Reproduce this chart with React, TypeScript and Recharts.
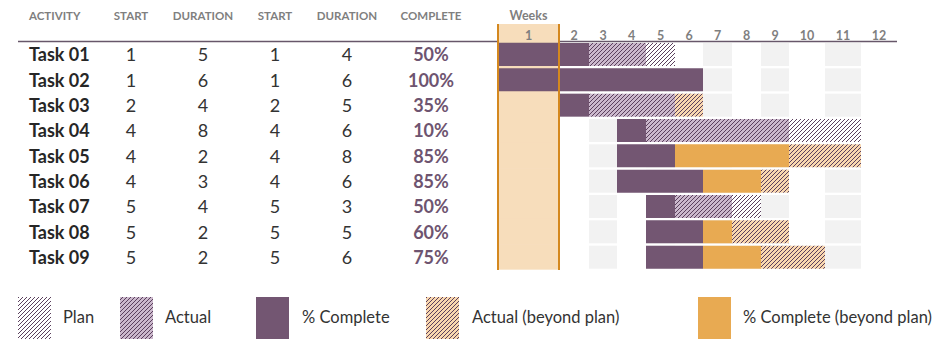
import { BarChart, Bar, XAxis, YAxis, ReferenceLine, Customized } from 'recharts';

// table values
const tasks = ['Task 01', 'Task 02', 'Task 03', 'Task 04', 'Task 05', 'Task 06', 'Task 07', 'Task 08', 'Task 09'];
const planStart = [1, 1, 2, 4, 4, 4, 5, 5, 5];
const planDuration = [5, 6, 4, 8, 2, 3, 4, 2, 2];
const actualStart = [1, 1, 2, 4, 4, 4, 5, 5, 5];
const actualDuration = [4, 6, 5, 6, 8, 6, 3, 5, 6];
const percentComplete = [50, 100, 35, 10, 85, 85, 50, 60, 75];
// whole weeks shown as done in the grid
const weeksDone = [2, 6, 1, 1, 6, 5, 1, 3, 4];

const weeks = [1, 2, 3, 4, 5, 6, 7, 8, 9, 10, 11, 12];
const currentWeek = 1;
const headers = ['ACTIVITY', 'START', 'DURATION', 'START', 'DURATION', 'COMPLETE'];
const legendLabels = ['Plan', 'Actual', '% Complete', 'Actual (beyond plan)', '% Complete (beyond plan)'];

// layout
const font = 'Lato, "Open Sans", sans-serif';
const W = 950;
const H = 355;
const plotLeft = 498;
const plotRight = 897;
const plotTop = 42;
const plotBottom = 270;
const rowGap = 1;
const columnWidths = [61, 30, 28, 29, 29, 28, 29, 29, 28, 36, 36, 36]; // excel cell widths
const columnEdges = columnWidths.reduce((acc, w) => [...acc, acc[acc.length - 1] + w], [0]);
const tableX = [29, 131, 203, 275, 347, 431];
const shadedWeeks = [3, 5, 7, 9, 11];
const legendSwatchX = [18, 120, 256, 426, 698];
const legendTextX = [63, 165, 302, 472, 743];

const purple = '#735672';
const orange = '#E8AA52';
const peach = '#F7DDBB';
const weekLine = '#D4881F';
const hatchInk = '#5B405D';

// piecewise linear scale so the week columns keep their uneven widths
function weekScale(): any {
  let domain = [0, weeks.length];
  let range = [0, 1];
  const total = columnEdges[columnEdges.length - 1];
  const scale: any = (v: number) => {
    const u = ((Number(v) - domain[0]) / (domain[1] - domain[0])) * columnWidths.length;
    const i = Math.max(0, Math.min(columnWidths.length - 1, Math.floor(u)));
    const pos = columnEdges[i] + (u - i) * columnWidths[i];
    return range[0] + (pos / total) * (range[1] - range[0]);
  };
  scale.domain = (d?: any) => {
    if (d === undefined) return domain.slice();
    domain = [Number(d[0]), Number(d[d.length - 1])];
    return scale;
  };
  scale.range = (r?: any) => {
    if (r === undefined) return range.slice();
    range = [Number(r[0]), Number(r[r.length - 1])];
    return scale;
  };
  scale.copy = () => weekScale().domain(domain).range(range);
  scale.ticks = () => weeks.map((w) => w - 0.5);
  scale.tickFormat = () => (v: number) => String(v);
  return scale;
}

const plotScale = weekScale().range([plotLeft, plotRight]);

const rows = tasks.map((task, i) => {
  const plan = planDuration[i];
  const act = actualDuration[i];
  const done = weeksDone[i];
  return {
    task,
    lead: actualStart[i] - 1,
    done: Math.min(done, plan),
    actual: Math.max(0, Math.min(act, plan) - done),
    doneBeyond: Math.max(0, done - plan),
    actualBeyond: Math.max(0, act - Math.max(plan, done)),
    plan: Math.max(0, plan - Math.max(act, done)),
  };
});

const RowBackdrop = (props: any) => {
  const { x, y, width, height, index } = props;
  const s = weekScale().range([x, x + width]);
  const isLast = index === rows.length - 1;
  const top = index === 0 ? y - rowGap : y - rowGap - 0.5;
  const bottom = isLast ? y + height + rowGap : y + height + rowGap + 0.5;
  return (
    <g key={`bg-${index}`}>
      {shadedWeeks.map((w) => (
        <rect key={w} x={s(w - 1)} y={y} width={s(w) - s(w - 1)} height={height} fill="#F2F2F2" />
      ))}
      <rect x={s(currentWeek - 1)} y={top} width={s(currentWeek) - s(currentWeek - 1)} height={bottom - top} fill={peach} />
    </g>
  );
};

const WeekTick = (props: any) => {
  const { x, y, index } = props;
  const week = weeks[index];
  const x0 = plotScale(week - 1);
  const x1 = plotScale(week);
  return (
    <g>
      {week === currentWeek && (
        <g>
          <rect x={x0} y={24} width={x1 - x0} height={plotTop - 24} fill={peach} />
          <line x1={x0} x2={x0} y1={24} y2={plotTop} stroke={weekLine} strokeWidth={2} />
          <line x1={x1} x2={x1} y1={24} y2={plotTop} stroke={weekLine} strokeWidth={2} />
        </g>
      )}
      <text x={x} y={y + 3} textAnchor="middle" fontFamily={font} fontSize={12.5} fontWeight={700} fill="#7F7F7F">
        {week}
      </text>
    </g>
  );
};

const TaskTick = (props: any) => {
  const { y, index } = props;
  const cells = [planStart[index], planDuration[index], actualStart[index], actualDuration[index]];
  return (
    <g fontFamily={font} fontSize={18}>
      <text x={tableX[0]} y={y} dy={6.5} fontWeight={700} fill="#262626">
        {tasks[index]}
      </text>
      {cells.map((v, k) => (
        <text key={k} x={tableX[k + 1]} y={y} dy={6.5} textAnchor="middle" fill="#333">
          {v}
        </text>
      ))}
      <text x={tableX[5]} y={y} dy={6.5} textAnchor="middle" fontWeight={700} fill="#6E5470">
        {percentComplete[index]}%
      </text>
    </g>
  );
};

const legendFills = ['url(#hatchPlan)', 'url(#hatchActual)', purple, 'url(#hatchBeyond)', orange];

const Decorations = () => (
  <g fontFamily={font}>
    {headers.map((h, i) => (
      <text key={i} x={tableX[i]} y={20} textAnchor={i === 0 ? 'start' : 'middle'} fontSize={11.5} fontWeight={700} fill="#7F7F7F">
        {h}
      </text>
    ))}
    <text x={plotScale(currentWeek - 0.5)} y={20} textAnchor="middle" fontSize={12.5} fontWeight={700} fill="#7F7F7F">
      Weeks
    </text>
    <line x1={18} x2={plotRight} y1={41.5} y2={41.5} stroke="#67576A" strokeWidth={1.5} />
    {legendLabels.map((label, i) => (
      <g key={label}>
        <rect x={legendSwatchX[i]} y={297} width={33} height={42} fill={legendFills[i]} />
        <text x={legendTextX[i]} y={323} fontSize={16.5} fill="#333">
          {label}
        </text>
      </g>
    ))}
  </g>
);

// excel-style 4px upward diagonal hatch, one pixel per step
const Hatch = ({ id, bg }: { id: string; bg: string }) => (
  <pattern id={id} patternUnits="userSpaceOnUse" x={0} y={0} width={4} height={4}>
    <rect width={4} height={4} fill={bg} />
    <rect x={3} y={0} width={1} height={1} fill={hatchInk} shapeRendering="crispEdges" />
    <rect x={2} y={1} width={1} height={1} fill={hatchInk} shapeRendering="crispEdges" />
    <rect x={1} y={2} width={1} height={1} fill={hatchInk} shapeRendering="crispEdges" />
    <rect x={0} y={3} width={1} height={1} fill={hatchInk} shapeRendering="crispEdges" />
  </pattern>
);

export default function App() {
  return (
    <div style={{ position: 'absolute', left: 0, top: 0, width: W, height: H, background: '#fff', fontFamily: font }}>
      <BarChart
        width={W}
        height={H}
        data={rows}
        layout="vertical"
        barCategoryGap={rowGap}
        margin={{ top: 0, right: W - plotRight, bottom: H - plotBottom, left: 0 }}
      >
        <defs>
          <Hatch id="hatchPlan" bg="#fff" />
          <Hatch id="hatchActual" bg="#CBB8CC" />
          <Hatch id="hatchBeyond" bg="#F9D7AF" />
        </defs>
        <XAxis
          type="number"
          orientation="top"
          height={plotTop}
          domain={[0, weeks.length]}
          scale={weekScale()}
          ticks={weeks.map((w) => w - 0.5)}
          interval={0}
          axisLine={false}
          tickLine={false}
          tickSize={0}
          tickMargin={5}
          tick={(p: any) => <WeekTick {...p} />}
        />
        <YAxis
          type="category"
          dataKey="task"
          width={plotLeft}
          interval={0}
          axisLine={false}
          tickLine={false}
          tick={(p: any) => <TaskTick {...p} />}
        />
        <Bar dataKey="lead" stackId="g" fill="transparent" isAnimationActive={false} />
        <Bar dataKey="done" stackId="g" fill={purple} background={(p: any) => <RowBackdrop {...p} />} isAnimationActive={false} />
        <Bar dataKey="actual" stackId="g" fill="url(#hatchActual)" isAnimationActive={false} />
        <Bar dataKey="doneBeyond" stackId="g" fill={orange} isAnimationActive={false} />
        <Bar dataKey="actualBeyond" stackId="g" fill="url(#hatchBeyond)" isAnimationActive={false} />
        <Bar dataKey="plan" stackId="g" fill="url(#hatchPlan)" isAnimationActive={false} />
        <ReferenceLine x={currentWeek - 1} stroke={weekLine} strokeWidth={2} />
        <ReferenceLine x={currentWeek} stroke={weekLine} strokeWidth={2} />
        <Customized component={<Decorations />} />
      </BarChart>
    </div>
  );
}
